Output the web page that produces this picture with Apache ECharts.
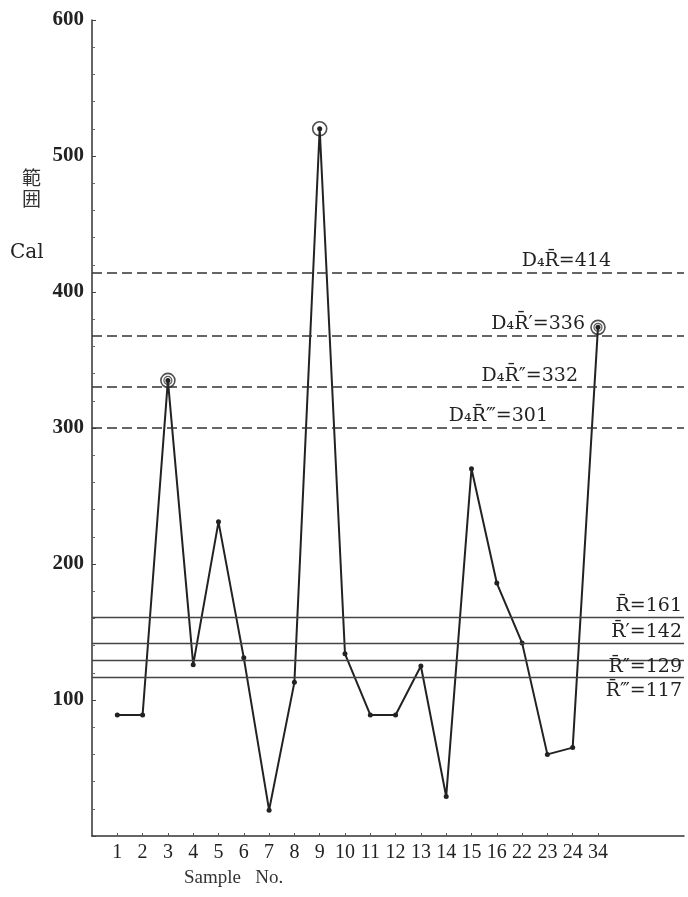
<!DOCTYPE html>
<html>
<head>
<meta charset="utf-8">
<script src="https://cdn.jsdelivr.net/npm/echarts@6/dist/echarts.min.js"></script>
<style>
  html, body { margin: 0; padding: 0; background: #fff; }
  #chart { width: 688px; height: 897px; }
</style>
</head>
<body>
<div id="chart"></div>
<script>
// sample numbers along the x axis
const sampleNos = ['1', '2', '3', '4', '5', '6', '7', '8', '9', '10', '11', '12', '13', '14', '15', '16', '22', '23', '24', '34'];
// range (Cal) for each sample
const ranges = [89, 89, 335, 126, 231, 131, 19, 113, 520, 134, 89, 89, 125, 29, 270, 186, 142, 60, 65, 374];
// samples marked with rings (1-based position)
const ringed = [3, 9, 20];
const doubleRinged = [3, 20];

// control limits (dashed) and means (solid)
const limitNames = ['D₄R̄=414', 'D₄R̄′=336', 'D₄R̄″=332', 'D₄R̄‴=301'];
const limitValues = [414, 368, 330, 300];
const meanNames = ['R̄=161', 'R̄′=142', 'R̄″=129', 'R̄‴=117'];
const meanValues = [161, 142, 129, 117];

const yTicks = [0, 100, 200, 300, 400, 500, 600];

const serif = '"Liberation Serif", "DejaVu Serif", serif';
const wideSerif = '"DejaVu Serif", serif';

const points = ranges.map((v, i) => [i + 1, v]);
const ringPts = ringed.map(p => points[p - 1]);
const innerPts = doubleRinged.map(p => points[p - 1]);

const limitPad = [71, 97, 104, 134];
const meanPos = ['insideEndTop', 'insideEndTop', 'insideEndBottom', 'insideEndBottom'];
const meanDist = [[1, 1], [1, 1], [1, -3], [1, 5]];

const markLines = [];
limitValues.forEach((v, i) => {
  markLines.push({
    yAxis: v,
    lineStyle: { type: [10, 5], width: 1.6, color: '#333' },
    label: {
      show: true, formatter: limitNames[i], position: 'insideEndTop',
      padding: [0, limitPad[i], 0, 0], distance: 2,
      fontFamily: wideSerif, fontSize: 19, color: '#222'
    }
  });
});
meanValues.forEach((v, i) => {
  markLines.push({
    yAxis: v,
    lineStyle: { type: 'solid', width: 1.3, color: '#444' },
    label: {
      show: true, formatter: meanNames[i], position: meanPos[i],
      padding: [0, 1, 0, 0], distance: meanDist[i],
      fontFamily: wideSerif, fontSize: 19, color: '#222'
    }
  });
});

const chart = echarts.init(document.getElementById('chart'));
chart.setOption({
  animation: false,
  backgroundColor: '#fff',
  grid: { left: 92, right: 4, top: 20, bottom: 61 },
  xAxis: {
    type: 'value', min: 0, max: 23.4,
    axisLine: { lineStyle: { color: '#333', width: 1.5 } },
    axisTick: { show: true, inside: true, length: 3, customValues: points.map(p => p[0]), lineStyle: { color: '#555' } },
    axisLabel: {
      customValues: points.map(p => p[0]),
      formatter: v => sampleNos[v - 1] || '',
      fontFamily: serif, fontSize: 20, color: '#222', margin: 7
    },
    splitLine: { show: false }
  },
  yAxis: {
    type: 'value', min: 0, max: 600, interval: 100,
    axisLine: { show: true, lineStyle: { color: '#333', width: 1.5 } },
    axisTick: { show: true, inside: true, length: 4, lineStyle: { color: '#444' } },
    minorTick: { show: true, splitNumber: 5, length: 3, lineStyle: { color: '#666' } },
    axisLabel: {
      customValues: yTicks.slice(1),
      fontFamily: serif, fontSize: 21, fontWeight: 'bold', color: '#222', margin: 8
    },
    splitLine: { show: false }
  },
  graphic: [
    { type: 'text', left: 22, top: 167, style: { text: '範\n囲', font: '19px "Noto Sans CJK JP"', fill: '#333', lineHeight: 21 } },
    { type: 'text', left: 10, top: 243, style: { text: 'Cal', font: '20px ' + wideSerif, fill: '#222' } },
    { type: 'text', left: 184, top: 869, style: { text: 'Sample   No.', font: '19px ' + serif, fill: '#333' } }
  ],
  series: [
    {
      type: 'line', data: points, symbol: 'circle', symbolSize: 5,
      itemStyle: { color: '#222' },
      lineStyle: { color: '#222', width: 2 },
      markLine: { silent: true, symbol: 'none', data: markLines }
    },
    {
      type: 'scatter', data: ringPts, symbol: 'circle', symbolSize: 14,
      itemStyle: { color: 'transparent', borderColor: '#222', borderWidth: 1.6 }, z: 3
    },
    {
      type: 'scatter', data: innerPts, symbol: 'circle', symbolSize: 8,
      itemStyle: { color: 'transparent', borderColor: '#333', borderWidth: 1.2 }, z: 4
    }
  ]
});
</script>
</body>
</html>
